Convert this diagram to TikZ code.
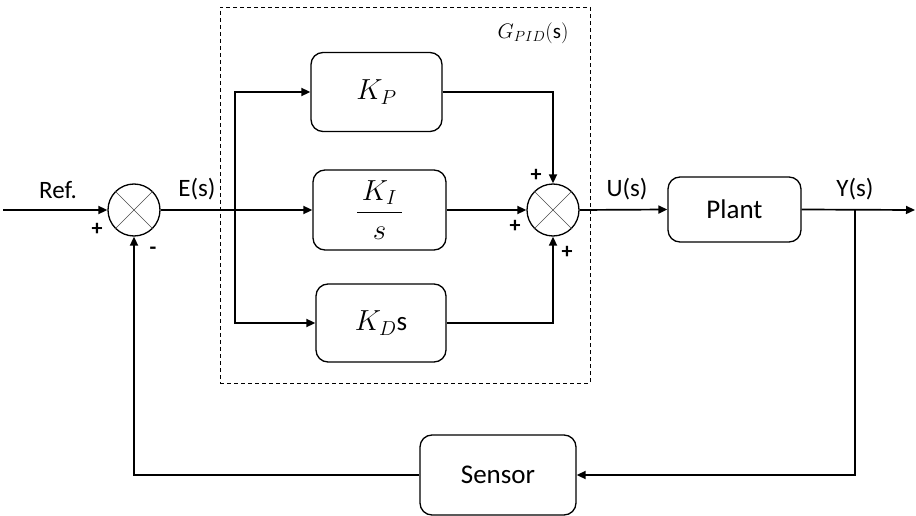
\RequirePackage{fix-cm}
\documentclass[tikz,border=0pt]{standalone}
\usepackage{fontspec}
\setmainfont{Carlito}
\usetikzlibrary{arrows.meta}
\begin{document}
\begin{tikzpicture}[x=1pt,y=-1pt,
  blk/.style={draw,line width=1.3pt,rounded corners=12pt,inner sep=0pt,
    font=\fontsize{27}{31}\selectfont},
  mth/.style={font=\fontsize{29}{33}\selectfont},
  sumj/.style={draw,circle,line width=1.3pt,minimum size=52pt,inner sep=0pt},
  cross/.style={line width=0.6pt,draw=black!70},
  wire/.style={line width=1.7pt},
  arr/.style={wire,-{Triangle[length=9pt,width=8pt]}},
  lbl/.style={font=\fontsize{25}{29}\selectfont,inner sep=0pt},
  sgn/.style={font=\fontsize{22}{25}\selectfont\bfseries,inner sep=0pt}]
\useasboundingbox (0,0) rectangle (916,516);

% PID controller boundary
\node[draw,dashed,line width=0.9pt,dash pattern=on 4pt off 3pt,
  minimum width=370pt,minimum height=376pt,inner sep=0pt] (pid) at (405,195) {};
\node[inner sep=0pt,font=\fontsize{21}{25}\selectfont] (gl) at (533,33) {$G_{PID}(\mathrm{s})$};

% summing junctions
\node[sumj] (s1) at (134,210) {};
\node[sumj] (s2) at (553,210) {};
\foreach \s in {s1,s2}{
  \draw[cross] (\s.north west) -- (\s.south east);
  \draw[cross] (\s.north east) -- (\s.south west);
}

% blocks
\node[blk,mth,minimum width=131pt,minimum height=79pt] (kP) at (376.5,92) {$K_P$};
\node[blk,mth,minimum width=133pt,minimum height=80pt] (kI) at (379.5,210) {$\displaystyle\frac{\,K_I\,}{s}$};
\node[blk,minimum width=130pt,minimum height=78pt] (kD) at (381,323) {{\fontsize{29}{33}\selectfont$K_D$}s};
\node[blk,minimum width=133pt,minimum height=65pt] (plant) at (734.5,209.5) {Plant};
\node[blk,minimum width=156pt,minimum height=80pt] (sensor) at (498,475) {Sensor};

% free ends and branch points
\coordinate (in) at (3,210);
\coordinate (out) at (915,210);
\coordinate (br) at (235,210);
\coordinate (tap) at (855,210);

% signal paths
\draw[arr] (in) -- (s1.west);
\draw[arr] (s1.east) -- (kI.west);
\draw[arr] (br) |- (kP.west);
\draw[arr] (br) |- (kD.west);
\draw[arr] (kP.east) -| (s2.north);
\draw[arr] (kI.east) -- (s2.west);
\draw[arr] (kD.east) -| (s2.south);
\draw[arr] (s2.east) -- (plant.west);
\draw[arr] (plant.east) -- (out);
\draw[arr] (tap) |- (sensor.east);
\draw[arr] (sensor.west) -| (s1.south);

% signal labels
\node[lbl] (lref) at (58,190) {Ref.};
\node[lbl] (le) at (197,189) {E(s)};
\node[lbl] (lu) at (627,189) {U(s)};
\node[lbl] (ly) at (855,189) {Y(s)};

% signs
\node[sgn] (p1) at (97,229) {+};
\node[sgn] (m1) at (153,251) {-};
\node[sgn] (p2) at (536,175) {+};
\node[sgn] (p3) at (515,226) {+};
\node[sgn] (p4) at (567,252) {+};
\end{tikzpicture}
\end{document}
